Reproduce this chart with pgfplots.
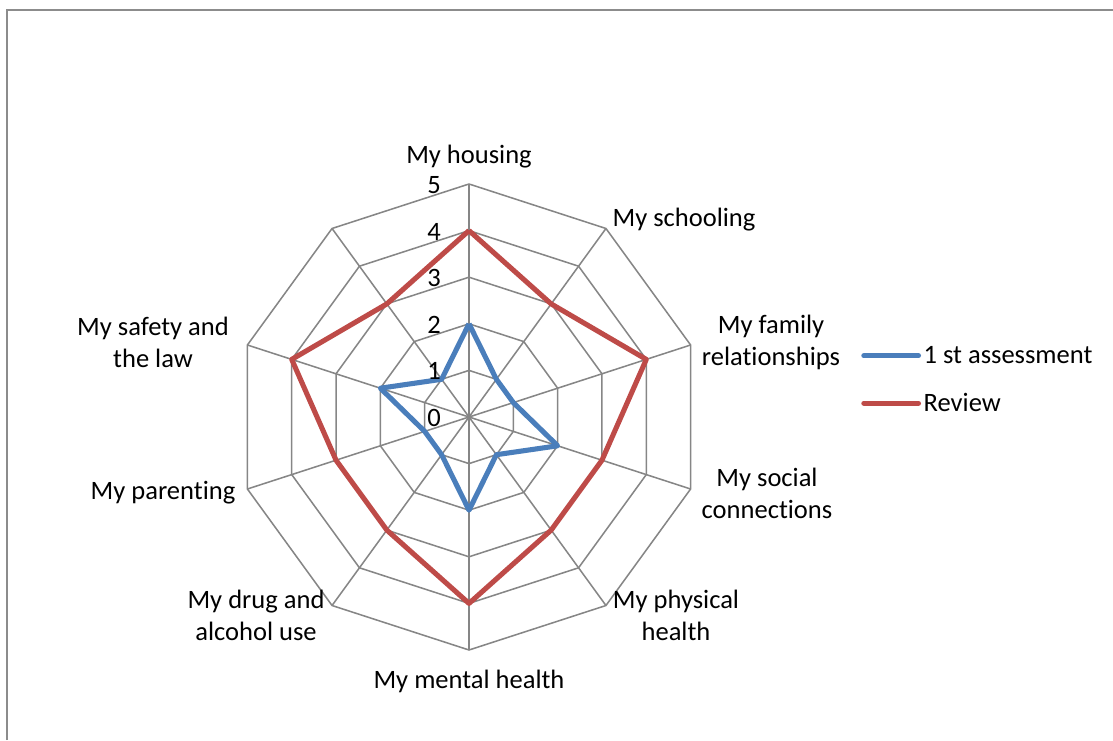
\documentclass[border=0pt]{standalone}
\usepackage{fontspec}
\setmainfont{Carlito}[Ligatures={NoCommon}]
\usepackage{pgfplots}
\pgfplotsset{compat=1.18}
\definecolor{gridgray}{HTML}{868686}
\definecolor{serblue}{HTML}{4A7EBB}
\definecolor{serred}{HTML}{BE4B48}
\definecolor{framegray}{HTML}{8C8C8C}
\newcommand{\lf}{\fontsize{19.9}{24}\selectfont}
\begin{document}
\begin{tikzpicture}
\useasboundingbox (0,0) rectangle (834.75pt,555pt);
\draw[framegray, line width=1.3pt] ({7*0.75pt},0) -- ({7*0.75pt},{730*0.75pt}) -- (834.75pt,{730*0.75pt});
\begin{axis}[
  hide axis,
  x=34.95pt, y=34.95pt,
  xmin=-5, xmax=5, ymin=-5, ymax=5,
  enlargelimits=false,
  anchor=center, at={({469*0.75pt},{323*0.75pt})},
  clip=false,
  legend style={draw=none, fill=none, at={(1.3412,0.6552)}, anchor=north west,
    inner sep=0pt, font=\lf, row sep=18.75pt, column sep=1pt,
    nodes={inner sep=1pt}},
  legend cell align=left,
  legend image code/.code={\draw[#1, line cap=round] (0pt,0pt) -- (41pt,0pt);},
]
% grid rings
\pgfplotsinvokeforeach{1,2,3,4,5}{
  \addplot[gridgray, line width=1.15pt, forget plot, data cs=polar]
    coordinates {(90,#1) (54,#1) (18,#1) (-18,#1) (-54,#1) (-90,#1) (-126,#1) (-162,#1) (162,#1) (126,#1) (90,#1)};
}
% spokes
\pgfplotsinvokeforeach{90,54,18,-18,-54,-90,-126,-162,162,126}{
  \addplot[gridgray, line width=1.15pt, forget plot, data cs=polar]
    coordinates {(#1,0) (#1,5)};
}
% 1 st assessment
\addplot[serblue, line width=3.8pt, line join=round, data cs=polar]
  coordinates {(90,2) (54,1) (18,1) (-18,2) (-54,1) (-90,2) (-126,1) (-162,1) (162,2) (126,1) (90,2)};
\addlegendentry{1 st assessment}
% Review
\addplot[serred, line width=3.8pt, line join=round, data cs=polar]
  coordinates {(90,4) (54,3) (18,4) (-18,3) (-54,3) (-90,4) (-126,3) (-162,3) (162,4) (126,3) (90,4)};
\addlegendentry{Review}
\end{axis}
% tick labels
\foreach \r/\yy in {0/241.5,1/276.45,2/311.4,3/346.35,4/381.3,5/416.25}
  \node[anchor=east, font=\lf, inner sep=0pt] at (330.75pt,\yy pt) {\r};
% category labels
\begin{scope}[every node/.style={font=\lf, align=center, inner sep=0pt}]
\node at ({469*0.75pt},{(740-157)*0.75pt}) {My housing};
\node at ({684*0.75pt},{(740-220)*0.75pt}) {My schooling};
\node at ({771*0.75pt},{(740-342)*0.75pt}) {My family\\relationships};
\node at ({767*0.75pt},{(740-493)*0.75pt}) {My social\\connections};
\node at ({676*0.75pt},{(740-615)*0.75pt}) {My physical\\health};
\node at ({469*0.75pt},{(740-681)*0.75pt}) {My mental health};
\node at ({256*0.75pt},{(740-615)*0.75pt}) {My drug and\\alcohol use};
\node at ({163*0.75pt},{(740-493)*0.75pt}) {My parenting};
\node at ({153*0.75pt},{(740-342)*0.75pt}) {My safety and\\the law};
\end{scope}
\end{tikzpicture}
\end{document}
